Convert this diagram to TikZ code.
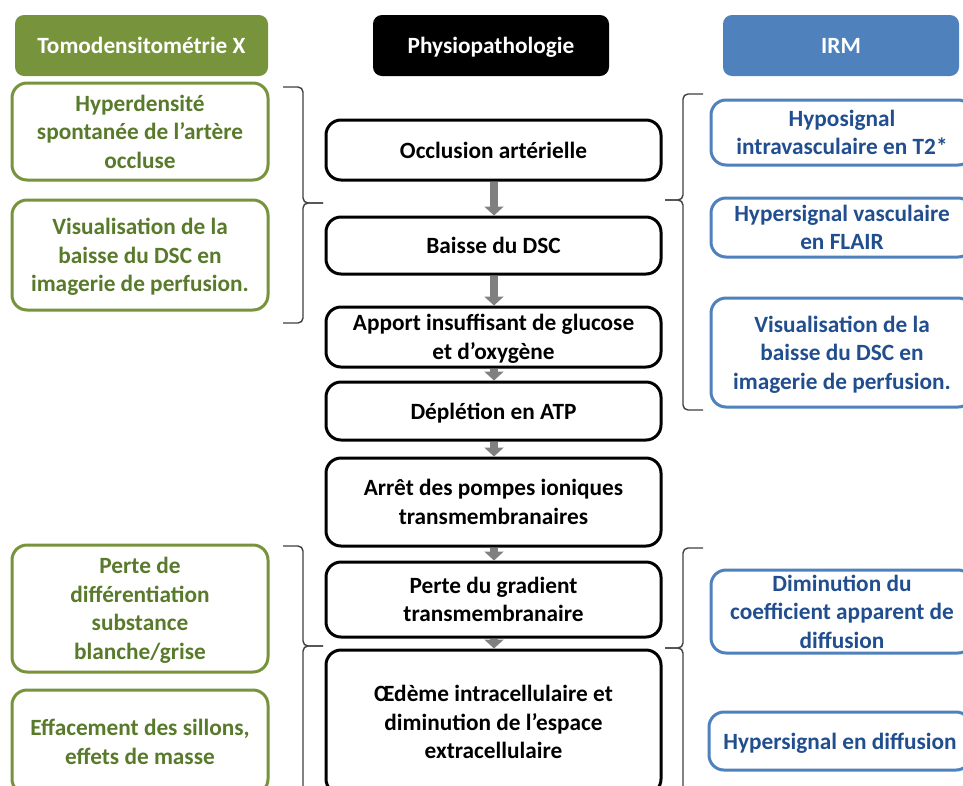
\documentclass[tikz,border=0pt]{standalone}
\usepackage{fontspec}
\setmainfont{Carlito}
\usetikzlibrary{arrows.meta}
\definecolor{gline}{HTML}{77933C}
\definecolor{gtext}{HTML}{587A2A}
\definecolor{bline}{HTML}{4F81BD}
\definecolor{btext}{HTML}{214E8E}
\definecolor{brc}{HTML}{404040}
\definecolor{arr}{HTML}{808080}
\tikzset{
  txt/.style={font={\fontsize{23.3pt}{28.5pt}\selectfont\bfseries}, align=center, inner sep=0pt, text depth=0pt},
  header/.style={txt, rectangle, rounded corners=9pt, text=white, minimum height=61pt},
  gbox/.style={txt, rectangle, rounded corners=15pt, draw=gline, line width=3pt, fill=white, text=gtext, minimum width=256pt},
  cbox/.style={txt, rectangle, rounded corners=15pt, draw=black, line width=3pt, fill=white, text=black, minimum width=335pt},
  bbox/.style={txt, rectangle, rounded corners=15pt, draw=bline, line width=3pt, fill=white, text=btext, minimum width=262pt},
  flow/.style={line width=8.5pt, draw=arr, -{Triangle[width=19pt,length=9pt]}},
  brace/.style={draw=brc, line width=1.4pt, rounded corners=5pt}
}
\begin{document}
\begin{tikzpicture}[x=1pt,y=-1pt]
\useasboundingbox (0,0) rectangle (963,785);
\clip (0,0) rectangle (963,785);
\fill[white] (0,0) rectangle (963,785);
% headers
\node[header, fill=gline, minimum width=253pt] (hct) at (141.5,45.5) {Tomodensitométrie X};
\node[header, fill=black, minimum width=236pt] (hph) at (491,45.5) {Physiopathologie};
\node[header, fill=bline, minimum width=236pt] (hirm) at (841,45.5) {IRM};
% left (CT) boxes
\node[gbox, minimum height=97pt] (l1) at (140,131.5) {Hyperdensité\\spontanée de l’artère\\occluse};
\node[gbox, minimum height=110pt] (l2) at (140,255) {Visualisation de la\\baisse du DSC en\\imagerie de perfusion.};
\node[gbox, minimum height=127pt] (l3) at (140,608.5) {Perte de\\différentiation\\substance\\blanche/grise};
\node[gbox, minimum height=104pt] (l4) at (140,742) {Effacement des sillons,\\effets de masse};
% center boxes
\node[cbox, minimum height=60pt] (c1) at (493.5,150) {Occlusion artérielle};
\node[cbox, minimum height=57pt] (c2) at (493.5,245.5) {Baisse du DSC};
\node[cbox, minimum height=60pt] (c3) at (493.5,337) {Apport insuffisant de glucose\\et d’oxygène};
\node[cbox, minimum height=58pt] (c4) at (493.5,411) {Déplétion en ATP};
\node[cbox, minimum height=88pt] (c5) at (493.5,502) {Arrêt des pompes ioniques\\transmembranaires};
\node[cbox, minimum height=75pt] (c6) at (493.5,599.5) {Perte du gradient\\transmembranaire};
\node[cbox, minimum height=144pt] (c7) at (493.5,722) {Œdème intracellulaire et\\diminution de l’espace\\extracellulaire};
% right (MRI) boxes
\node[bbox, minimum height=65pt] (r1) at (842,132.5) {Hyposignal\\intravasculaire en T2*};
\node[bbox, minimum height=59pt] (r2) at (842,227.5) {Hypersignal vasculaire\\en FLAIR};
\node[bbox, minimum height=109pt] (r3) at (842,352.5) {Visualisation de la\\baisse du DSC en\\imagerie de perfusion.};
\node[bbox, minimum height=83pt] (r4) at (842,611.5) {Diminution du\\coefficient apparent de\\diffusion};
\node[bbox, minimum height=58pt] (r5) at (840,741) {Hypersignal en diffusion};
% flow arrows
\draw[flow] (c1.south -| 494,0) -- (c2.north -| 494,0);
\draw[flow] (c2.south -| 494,0) -- (c3.north -| 494,0);
\draw[flow] (c3.south -| 494,0) -- (c4.north -| 494,0);
\draw[flow] (c4.south -| 494,0) -- (c5.north -| 494,0);
\draw[flow] (c5.south -| 494,0) -- (c6.north -| 494,0);
\draw[flow] (c6.south -| 494,0) -- (c7.north -| 494,0);
% braces left
\draw[brace] (283,87) -- (303,87) -- (303,203) -- (323,203);
\draw[brace] (323,203) -- (303,203) -- (303,323) -- (283,323);
\draw[brace] (283,546) -- (303,546) -- (303,646) -- (323,646);
\draw[brace] (323,646) -- (303,646) -- (303,820);
% braces right
\draw[brace] (703,94) -- (683,94) -- (683,200) -- (665,200);
\draw[brace] (665,200) -- (683,200) -- (683,410) -- (703,410);
\draw[brace] (703,548) -- (683,548) -- (683,648) -- (665,648);
\draw[brace] (665,648) -- (683,648) -- (683,820);
\end{tikzpicture}
\end{document}
